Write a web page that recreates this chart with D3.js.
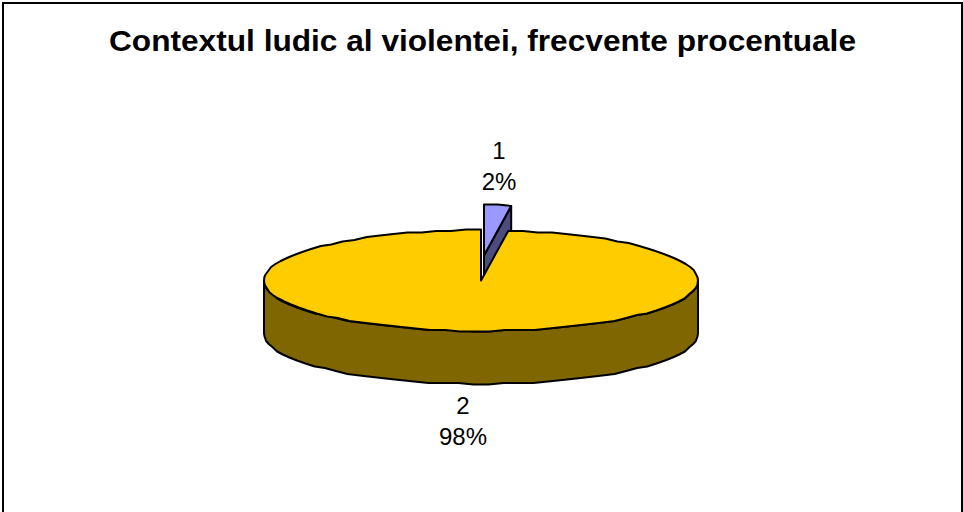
<!DOCTYPE html>
<html>
<head>
<meta charset="utf-8">
<script src="https://cdnjs.cloudflare.com/ajax/libs/d3/7.8.5/d3.min.js"></script>
<style>
html, body { margin: 0; padding: 0; background: #fff; overflow: hidden; }
text { font-family: "Liberation Sans", Arial, sans-serif; fill: #000; }
</style>
</head>
<body>
<div id="chart"></div>
<script>
// 3D exploded pie, drawn by hand since d3 has no 3D layout
const titleText = 'Contextul ludic al violentei, frecvente procentuale';
const categories = ['1', '2'];
const percentValues = [2, 98];
const topColors = ['#9999FF', '#FFCC00'];
const sideColors = ['#4C4C7F', '#7F6600'];

const width = 963, height = 512;
const depth = 53;
const explode = [{ dx: 3, dy: -25 }, { dx: 0, dy: 0 }];
const labelPos = [{ x: 499, y: 159 }, { x: 463, y: 414 }];

const svg = d3.select('#chart').append('svg')
    .attr('width', width)
    .attr('height', height)
    .style('display', 'block');

// frame runs off the bottom of the picture
svg.append('rect')
    .attr('x', 3).attr('y', 3)
    .attr('width', 959).attr('height', 530)
    .attr('fill', '#fff')
    .attr('stroke', '#000')
    .attr('stroke-width', 2);

svg.append('text')
    .attr('x', 482.5).attr('y', 51)
    .attr('text-anchor', 'middle')
    .attr('textLength', 747)
    .attr('lengthAdjust', 'spacingAndGlyphs')
    .style('font-size', '30px')
    .style('font-weight', 'bold')
    .text(titleText);

const xScale = d3.scaleLinear().domain([-1, 1]).range([264, 698]);
const yScale = d3.scaleLinear().domain([-1, 1]).range([331, 230]);

const pie = d3.pie().sort(null).value(d => d);
const slices = pie(percentValues);

// y rounding gives the slightly stepped outline of the original
const snap = v => Math.round(v / 1.5) * 1.5;
function rim(angle, off, drop) {
    return [
        xScale(Math.sin(angle)) + off.dx,
        snap(yScale(Math.cos(angle))) + off.dy + drop
    ];
}
function rimPoints(a0, a1, off, drop) {
    const n = Math.max(2, Math.ceil((a1 - a0) / (Math.PI / 45)));
    return d3.range(n + 1).map(i => rim(a0 + (a1 - a0) * i / n, off, drop));
}
function apex(off, drop) {
    return [xScale(0) + off.dx, yScale(0) + off.dy + drop];
}
const line = d3.line();
const closed = pts => line(pts) + 'Z';

const marks = svg.append('g')
    .attr('stroke', '#000')
    .attr('stroke-width', 2)
    .attr('stroke-linejoin', 'round');

// small slice goes first so the big one overlaps its walls
slices.forEach((s, i) => {
    const off = explode[i];
    const g = marks.append('g');
    // cut wall at the end angle of the slice
    if (i === 0) {
        const c = apex(off, 0), e = rim(s.endAngle, off, 0);
        g.append('path')
            .attr('d', closed([c, e, [e[0], e[1] + depth], [c[0], c[1] + depth]]))
            .attr('fill', sideColors[i]);
    }
    // outer wall, visible on the front half only
    const a0 = Math.max(s.startAngle, Math.PI / 2);
    const a1 = Math.min(s.endAngle, Math.PI * 1.5);
    if (a1 > a0) {
        const upper = rimPoints(a0, a1, off, 0);
        const lower = rimPoints(a0, a1, off, depth).reverse();
        g.append('path')
            .attr('d', closed(upper.concat(lower)))
            .attr('fill', sideColors[i]);
    }
    g.append('path')
        .attr('d', closed([apex(off, 0)].concat(rimPoints(s.startAngle, s.endAngle, off, 0))))
        .attr('fill', topColors[i]);
});

const labels = svg.append('g')
    .attr('text-anchor', 'middle')
    .style('font-size', '24px');
categories.forEach((c, i) => {
    labels.append('text').attr('x', labelPos[i].x).attr('y', labelPos[i].y).text(c);
    labels.append('text').attr('x', labelPos[i].x).attr('y', labelPos[i].y + 31).text(percentValues[i] + '%');
});
</script>
</body>
</html>
